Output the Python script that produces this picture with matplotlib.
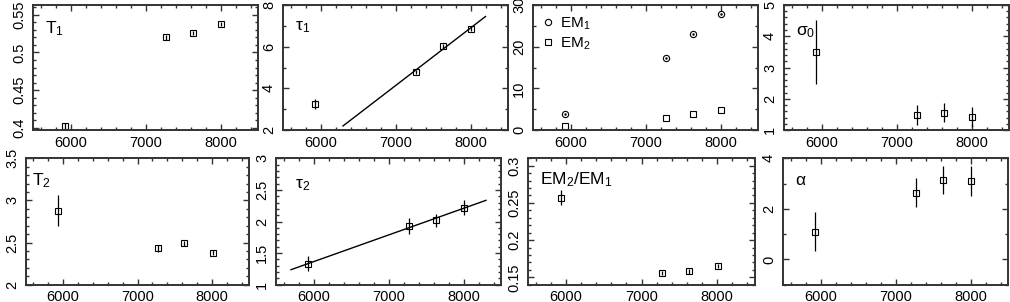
import numpy as np
import matplotlib
matplotlib.use('Agg')
import matplotlib.pyplot as plt
from matplotlib.ticker import MultipleLocator, FormatStrFormatter

plt.rcParams['font.family'] = ['Liberation Sans', 'DejaVu Sans']
plt.rcParams['mathtext.fontset'] = 'custom'
plt.rcParams['mathtext.rm'] = 'Liberation Sans'
plt.rcParams['mathtext.it'] = 'Liberation Sans'
plt.rcParams['mathtext.sf'] = 'Liberation Sans'

# temperatures of the four runs
temp = [5930, 7270, 7630, 8010]

T1 = [0.402, 0.520, 0.526, 0.538]
T1_err = [0.004, 0.003, 0.003, 0.003]
tau1 = [3.25, 4.80, 6.02, 6.85]
tau1_err = [0.25, 0.10, 0.10, 0.10]
em1 = [3.9, 17.4, 23.0, 27.8]
em2 = [0.9, 2.8, 3.8, 4.8]
sigma0 = [3.5, 1.48, 1.56, 1.42]
sigma0_err = [1.03, 0.32, 0.30, 0.33]

T2 = [2.88, 2.43, 2.49, 2.38]
T2_err = [0.18, 0.04, 0.03, 0.03]
tau2 = [1.33, 1.93, 2.02, 2.22]
tau2_err = [0.12, 0.12, 0.10, 0.12]
ratio = [0.257, 0.156, 0.158, 0.165]
ratio_err = [0.010, 0.003, 0.003, 0.003]
alpha = [1.10, 2.64, 3.14, 3.10]
alpha_err = [0.76, 0.58, 0.55, 0.58]

W, H = 1010, 302
fig = plt.figure(figsize=(W / 100, H / 100), dpi=100)


def panel(left, top, width, height):
    ax = fig.add_axes([left / W, 1 - (top + height) / H, width / W, height / H])
    ax.set_xlim(5500, 8500)
    ax.xaxis.set_major_locator(MultipleLocator(1000))
    ax.xaxis.set_minor_locator(MultipleLocator(200))
    ax.tick_params(which='both', direction='in', top=True, right=True,
                   color='#333333', labelsize=10.5)
    ax.tick_params(which='major', length=4.5, width=1)
    ax.tick_params(which='minor', length=2.2, width=1)
    ax.tick_params(axis='x', pad=4)
    ax.tick_params(axis='y', pad=5, labelrotation=90)
    for s in ax.spines.values():
        s.set_color('#333333')
        s.set_linewidth(1.4)
    return ax


def pts(ax, y, yerr=None, marker='s'):
    ax.errorbar(temp, y, yerr=yerr, fmt=marker, ms=4, mfc='none', mec='black',
                mew=0.8, ecolor='black', elinewidth=0.9, capsize=0)


def label(ax, x, y, txt, size=12.5):
    ax.text(x, y, txt, transform=ax.transAxes, fontsize=size, va='baseline', ha='left')


def set_y(ax, lo, hi, major, minor):
    ax.set_ylim(lo, hi)
    ax.yaxis.set_major_locator(MultipleLocator(major))
    ax.yaxis.set_minor_locator(MultipleLocator(minor))
    ax.yaxis.set_major_formatter(FormatStrFormatter('%g'))
    for lab in ax.get_yticklabels():
        lab.set_va('center')


top1, h1 = 5, 125
top2, h2 = 158.3, 126.4

# top row
ax = panel(33, top1, 225, h1)
set_y(ax, 0.397, 0.563, 0.05, 0.01)
pts(ax, T1, T1_err)
label(ax, 0.053, 0.776, r'$\mathrm{T}_1$')

ax = panel(283, top1, 225, h1)
set_y(ax, 2, 8, 2, 1)
pts(ax, tau1, tau1_err)
k = np.polyfit(temp[1:], tau1[1:], 1)
xf = np.array([6300, 8200])
ax.plot(xf, np.polyval(k, xf), color='black', lw=1)
label(ax, 0.053, 0.8, r'$\mathrm{\tau}_1$')

ax = panel(533, top1, 225, h1)
set_y(ax, 0, 30, 10, 5)
ax.plot(temp, em1, 'o', ms=4.5, mfc='none', mec='black', mew=0.8, label=r'EM$_1$')
ax.plot(temp, em1, '.', ms=1.5, color='black')
ax.plot(temp, em2, 's', ms=4, mfc='none', mec='black', mew=0.8, label=r'EM$_2$')
ax.legend(loc='upper left', frameon=False, fontsize=11, handlelength=0.6,
          handletextpad=0.5, borderaxespad=0.3, labelspacing=0.2)

ax = panel(784, top1, 225, h1)
set_y(ax, 1, 5, 1, 0.2)
pts(ax, sigma0, sigma0_err)
label(ax, 0.053, 0.76, r'$\mathrm{\sigma}_0$')

# bottom row
ax = panel(26, top2, 223, h2)
set_y(ax, 2, 3.5, 0.5, 0.1)
pts(ax, T2, T2_err)
label(ax, 0.027, 0.788, r'$\mathrm{T}_2$')

ax = panel(276, top2, 225, h2)
set_y(ax, 1, 3, 0.5, 0.1)
pts(ax, tau2, tau2_err)
k = np.polyfit(temp, tau2, 1)
xf = np.array([5700, 8300])
ax.plot(xf, np.polyval(k, xf), color='black', lw=1)
label(ax, 0.085, 0.765, r'$\mathrm{\tau}_2$')

ax = panel(528, top2, 227, h2)
set_y(ax, 0.14, 0.31, 0.05, 0.01)
pts(ax, ratio, ratio_err)
label(ax, 0.053, 0.796, r'EM$_2$/EM$_1$')

ax = panel(783, top2, 225, h2)
set_y(ax, -1, 4, 2, 1)
pts(ax, alpha, alpha_err)
label(ax, 0.053, 0.79, r'$\mathrm{\alpha}$')

fig.savefig('out.png', dpi=100)
